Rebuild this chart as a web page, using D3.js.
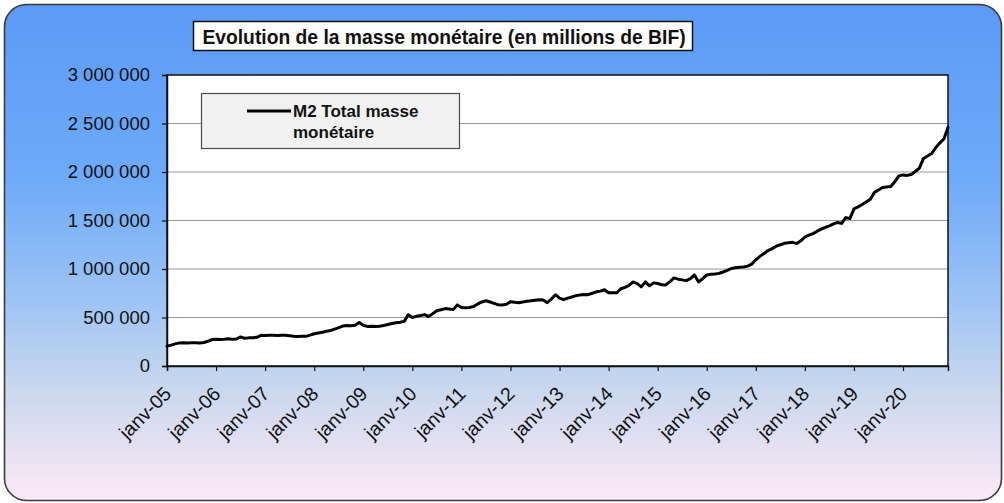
<!DOCTYPE html>
<html>
<head>
<meta charset="utf-8">
<script src="https://cdn.jsdelivr.net/npm/d3@7"></script>
<style>
  body { margin: 0; background: #ffffff; }
  svg text { font-family: "Liberation Sans", Arial, sans-serif; fill: #111; }
</style>
</head>
<body>
<svg id="chart" width="1004" height="503"></svg>
<script>
// Monthly M2 money supply, millions of BIF, Jan 2005 – Dec 2020
const m2_2005 = [205000, 215000, 228000, 238000, 240000, 238000, 239000, 240000, 238000, 242000, 255000, 272000];
const m2_2006 = [275000, 274000, 276000, 280000, 275000, 278000, 300000, 285000, 290000, 292000, 296000, 316000];
const m2_2007 = [314000, 316000, 318000, 315000, 317000, 316000, 312000, 306000, 305000, 307000, 306000, 318000];
const m2_2008 = [332000, 340000, 348000, 358000, 366000, 380000, 395000, 412000, 418000, 416000, 420000, 449000];
const m2_2009 = [420000, 408000, 410000, 407000, 410000, 418000, 428000, 438000, 445000, 452000, 460000, 528000];
const m2_2010 = [500000, 512000, 520000, 530000, 510000, 540000, 570000, 580000, 592000, 588000, 581000, 630000];
const m2_2011 = [602000, 600000, 603000, 615000, 640000, 660000, 673000, 660000, 645000, 632000, 630000, 636000];
const m2_2012 = [663000, 658000, 653000, 660000, 668000, 672000, 678000, 684000, 680000, 653000, 690000, 735000];
const m2_2013 = [700000, 684000, 700000, 712000, 725000, 733000, 738000, 735000, 750000, 765000, 772000, 786000];
const m2_2014 = [755000, 756000, 755000, 796000, 810000, 830000, 867000, 850000, 816000, 867000, 826000, 857000];
const m2_2015 = [850000, 837000, 836000, 870000, 908000, 895000, 888000, 880000, 900000, 939000, 867000, 900000];
const m2_2016 = [939000, 945000, 949000, 955000, 969000, 985000, 1005000, 1012000, 1018000, 1020000, 1030000, 1050000];
const m2_2017 = [1095000, 1130000, 1160000, 1190000, 1210000, 1235000, 1250000, 1265000, 1270000, 1275000, 1262000, 1290000];
const m2_2018 = [1330000, 1350000, 1365000, 1390000, 1410000, 1430000, 1445000, 1465000, 1480000, 1470000, 1530000, 1520000];
const m2_2019 = [1620000, 1640000, 1665000, 1690000, 1720000, 1790000, 1815000, 1840000, 1845000, 1850000, 1900000, 1960000];
const m2_2020 = [1970000, 1965000, 1975000, 2005000, 2040000, 2140000, 2165000, 2190000, 2250000, 2300000, 2340000, 2460000];

const m2Values = [].concat(m2_2005, m2_2006, m2_2007, m2_2008, m2_2009, m2_2010, m2_2011, m2_2012,
                           m2_2013, m2_2014, m2_2015, m2_2016, m2_2017, m2_2018, m2_2019, m2_2020);

const xTickLabels = ["janv-05", "janv-06", "janv-07", "janv-08", "janv-09", "janv-10", "janv-11", "janv-12",
                     "janv-13", "janv-14", "janv-15", "janv-16", "janv-17", "janv-18", "janv-19", "janv-20"];
const yTickValues = [0, 500000, 1000000, 1500000, 2000000, 2500000, 3000000];

const titleText = "Evolution de la masse monétaire (en millions de BIF)";
const legendLines = ["M2 Total masse", "monétaire"];

const svg = d3.select("#chart");
const W = 1004, H = 503;

// Background gradient of the outer frame
const defs = svg.append("defs");
const grad = defs.append("linearGradient").attr("id", "bg").attr("x1", 0).attr("y1", 0).attr("x2", 0).attr("y2", 1);
[[0, "#5c9af7"], [0.35, "#6eaaf8"], [0.6, "#9ec4f4"], [0.78, "#cbd8ee"], [1, "#fde9f6"]]
  .forEach(([o, c]) => grad.append("stop").attr("offset", o).attr("stop-color", c));

svg.append("rect")
  .attr("x", 4.5).attr("y", 4.5).attr("width", W - 7).attr("height", H - 7)
  .attr("rx", 22).attr("ry", 22)
  .attr("fill", "url(#bg)").attr("stroke", "#3a3a3a").attr("stroke-width", 1.6);

// Plot area
const plot = { left: 167, top: 75, right: 948, bottom: 366 };

const x = d3.scaleLinear().domain([0, m2Values.length - 1]).range([plot.left, plot.right]);
const y = d3.scaleLinear().domain([0, 3000000]).range([plot.bottom, plot.top]);

svg.append("rect")
  .attr("x", plot.left).attr("y", plot.top)
  .attr("width", plot.right - plot.left).attr("height", plot.bottom - plot.top)
  .attr("fill", "#ffffff");

// Horizontal gridlines
svg.append("g")
  .selectAll("line")
  .data(yTickValues.filter(v => v > 0 && v < 3000000))
  .join("line")
  .attr("x1", plot.left).attr("x2", plot.right)
  .attr("y1", d => y(d)).attr("y2", d => y(d))
  .attr("stroke", "#9a9a9a").attr("stroke-width", 1.2);

// Plot border
svg.append("rect")
  .attr("x", plot.left).attr("y", plot.top)
  .attr("width", plot.right - plot.left).attr("height", plot.bottom - plot.top)
  .attr("fill", "none").attr("stroke", "#111").attr("stroke-width", 1.5);

// Axes
const frFormat = d3.formatLocale({ decimal: ",", thousands: " ", grouping: [3], currency: ["", " BIF"] }).format(",d");

const yAxis = svg.append("g")
  .attr("transform", `translate(${plot.left},0)`)
  .call(d3.axisLeft(y).tickValues(yTickValues).tickFormat(frFormat).tickSize(5).tickPadding(12));
yAxis.select(".domain").attr("stroke", "#111").attr("stroke-width", 1.5);
yAxis.selectAll(".tick line").attr("stroke", "#111").attr("stroke-width", 1.2);
yAxis.selectAll(".tick text")
  .attr("font-size", "18.5px").attr("fill", "#111")
  .attr("font-family", "'Liberation Sans', Arial, sans-serif");

const xTickIdx = xTickLabels.map((_, i) => i * 12);
const xAxis = svg.append("g")
  .attr("transform", `translate(0,${plot.bottom})`)
  .call(d3.axisBottom(x).tickValues(xTickIdx).tickFormat((d, i) => xTickLabels[i]).tickSize(5));
xAxis.select(".domain").attr("stroke", "#111").attr("stroke-width", 1.5);
xAxis.selectAll(".tick line").attr("stroke", "#111").attr("stroke-width", 1.2);
xAxis.selectAll(".tick text")
  .attr("font-size", "19.5px").attr("fill", "#111")
  .attr("font-family", "'Liberation Sans', Arial, sans-serif")
  .attr("text-anchor", "end")
  .attr("dy", null)
  .attr("y", 0)
  .attr("transform", "translate(5,29) rotate(-45)");

// Series line
const line = d3.line()
  .x((d, i) => x(i))
  .y(d => y(d))
  .curve(d3.curveLinear);

svg.append("path")
  .datum(m2Values)
  .attr("d", line)
  .attr("fill", "none")
  .attr("stroke", "#000")
  .attr("stroke-width", 3)
  .attr("stroke-linejoin", "round")
  .attr("stroke-linecap", "round");

// Legend box
const legend = svg.append("g");
legend.append("rect")
  .attr("x", 201.5).attr("y", 93.5).attr("width", 258).attr("height", 55)
  .attr("fill", "#f1f1f1").attr("stroke", "#4a4a4a").attr("stroke-width", 1.2);
legend.append("line")
  .attr("x1", 247).attr("x2", 291).attr("y1", 111).attr("y2", 111)
  .attr("stroke", "#000").attr("stroke-width", 3);
legend.selectAll("text.lg")
  .data(legendLines)
  .join("text")
  .attr("class", "lg")
  .attr("x", 293)
  .attr("y", (d, i) => 117 + i * 21)
  .attr("font-size", "17px")
  .attr("font-weight", "bold")
  .text(d => d);

// Title box
const title = svg.append("g");
title.append("rect")
  .attr("x", 193.5).attr("y", 21.5).attr("width", 499).attr("height", 29)
  .attr("fill", "#ffffff").attr("stroke", "#111").attr("stroke-width", 1.5);
title.append("text")
  .attr("x", 444).attr("y", 43.5)
  .attr("text-anchor", "middle")
  .attr("font-size", "19.3px")
  .attr("font-weight", "bold")
  .text(titleText);
</script>
</body>
</html>
